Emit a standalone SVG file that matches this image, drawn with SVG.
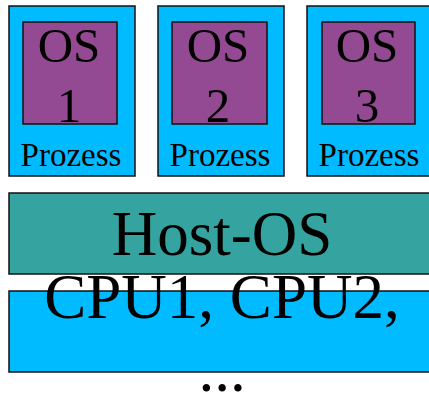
<svg xmlns="http://www.w3.org/2000/svg" width="429" height="397" viewBox="0 0 429 397">
  <style>
    .proc { fill: #00BBFF; stroke: #111; stroke-width: 1.5; }
    .guest { fill: #944A92; stroke: #111; stroke-width: 1.5; }
    .host { fill: #35A4A0; stroke: #111; stroke-width: 1.5; }
    .hw { fill: #00BBFF; stroke: #111; stroke-width: 1.5; }
    text { font-family: "Liberation Serif", "Times New Roman", serif; fill: #000; text-anchor: middle; }
    .os { font-size: 49px; }
    .lbl { font-size: 33px; }
    .big { font-size: 63px; }
  </style>

  <!-- guest processes -->
  <g id="proc1">
    <rect class="proc" x="9" y="6" width="126" height="170"/>
    <rect class="guest" x="23" y="22" width="94" height="102"/>
    <text class="os" x="69" y="62">OS</text>
    <text class="os" x="69" y="122">1</text>
    <text class="lbl" x="71" y="166">Prozess</text>
  </g>
  <g id="proc2">
    <rect class="proc" x="158" y="6" width="126" height="170"/>
    <rect class="guest" x="172" y="22" width="95" height="102"/>
    <text class="os" x="218" y="62">OS</text>
    <text class="os" x="218" y="122">2</text>
    <text class="lbl" x="220" y="166">Prozess</text>
  </g>
  <g id="proc3">
    <rect class="proc" x="307" y="6" width="126" height="170"/>
    <rect class="guest" x="322" y="22" width="93" height="102"/>
    <text class="os" x="367" y="62">OS</text>
    <text class="os" x="367" y="122">3</text>
    <text class="lbl" x="369" y="166">Prozess</text>
  </g>

  <!-- host operating system -->
  <g id="host">
    <rect class="host" x="9" y="193" width="430" height="81"/>
    <text class="big" x="222" y="255">Host-OS</text>
  </g>

  <!-- hardware layer -->
  <g id="hardware">
    <rect class="hw" x="9" y="291" width="430" height="81"/>
    <text class="big" x="222" y="318">CPU1, CPU2,</text>
    <text class="big" x="222" y="391">...</text>
  </g>

  <g id="connectors"/>
</svg>
